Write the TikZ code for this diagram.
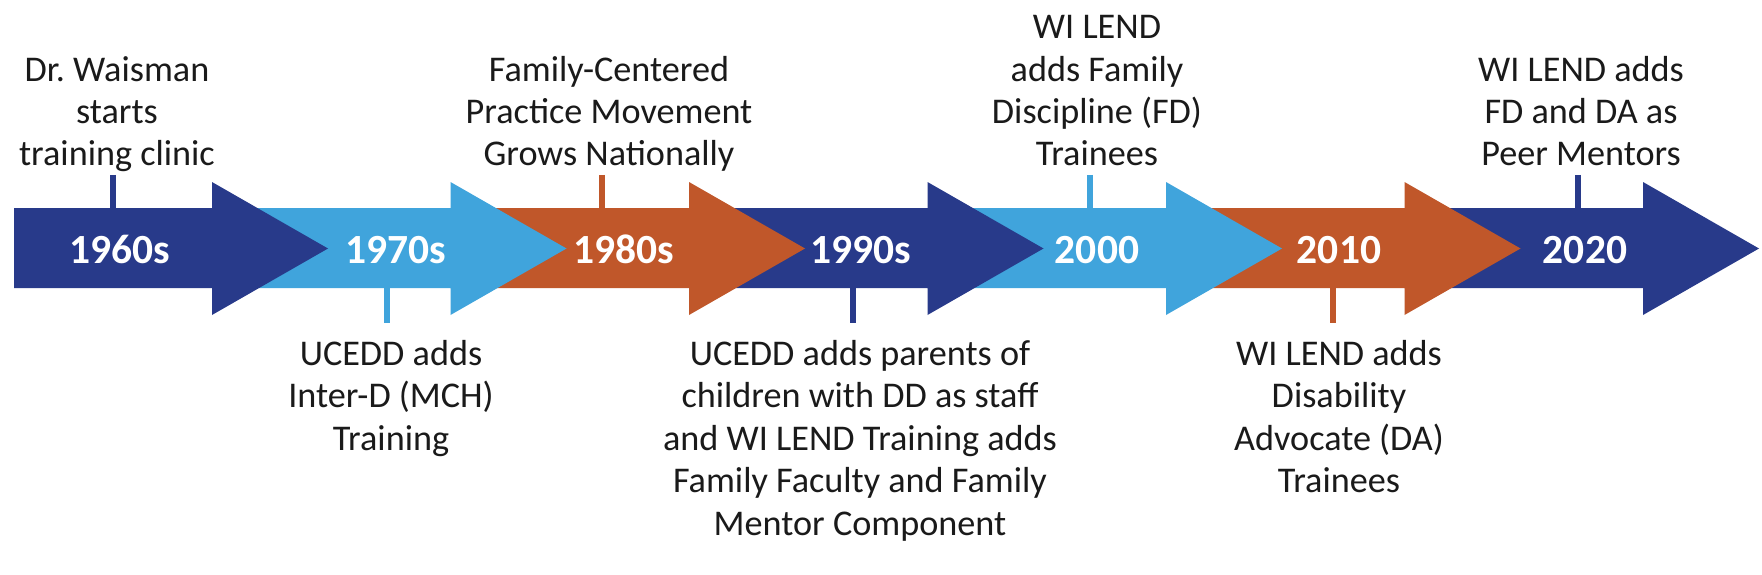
\documentclass[tikz,border=0pt]{standalone}
\usepackage{fontspec}
\setmainfont{Carlito}
\frenchspacing
\definecolor{navy}{HTML}{283A8A}
\definecolor{sky}{HTML}{40A4DC}
\definecolor{rust}{HTML}{C0572A}
\definecolor{ink}{HTML}{1A1A1A}
\begin{document}
\begin{tikzpicture}[x=1pt,y=-1pt,
  yearlbl/.style={text=white,font=\fontsize{41.5}{48}\selectfont\bfseries,inner sep=0pt,anchor=base},
  eventlbl/.style={text=ink,font=\fontsize{36.2}{42.5}\selectfont,align=center,inner sep=0pt,anchor=base},
  tick/.style={line width=6pt}]
\useasboundingbox (0,0) rectangle (1762,575);
\fill[white] (0,0) rectangle (1762,575);
% arrow geometry: shaft 208-288, head 182-315, tip y 248.5
\def\arrowshape#1#2#3#4{% left, headstart, tip, colour
  \fill[#4] (#1,208) -- (#2,208) -- (#2,182) -- (#3,248.5) -- (#2,315) -- (#2,288) -- (#1,288) -- cycle;}
\arrowshape{1404.5}{1643}{1759}{navy}
\arrowshape{1166}{1404.5}{1520.5}{rust}
\arrowshape{927.5}{1166}{1282}{sky}
\arrowshape{689}{927.5}{1043.5}{navy}
\arrowshape{450.5}{689}{805}{rust}
\arrowshape{212}{450.5}{566.5}{sky}
\arrowshape{14}{212}{328}{navy}
% year labels
\node[yearlbl] (y1960) at (120,263) {1960s};
\node[yearlbl] (y1970) at (396,263) {1970s};
\node[yearlbl] (y1980) at (624,263) {1980s};
\node[yearlbl] (y1990) at (861,263) {1990s};
\node[yearlbl] (y2000) at (1097,263) {2000};
\node[yearlbl] (y2010) at (1339,263) {2010};
\node[yearlbl] (y2020) at (1585,263) {2020};
% event labels (anchor base = baseline of last line)
\node[eventlbl] (e1960) at (117,166) {Dr.\ Waisman\\starts\\training clinic};
\node[eventlbl] (e1980) at (609,166) {Family-Centered\\Practice Movement\\Grows Nationally};
\node[eventlbl] (e2000) at (1097,166) {WI LEND\\adds Family\\Discipline (FD)\\Trainees};
\node[eventlbl] (e2020) at (1581,166) {WI LEND adds\\FD and DA as\\Peer Mentors};
\node[eventlbl] (e1970) at (391,450) {UCEDD adds\\Inter-D (MCH)\\Training};
\node[eventlbl] (e1990) at (860,535) {UCEDD adds parents of\\children with DD as staff\\and WI LEND Training adds\\Family Faculty and Family\\Mentor Component};
\node[eventlbl] (e2010) at (1339,492.5) {WI LEND adds\\Disability\\Advocate (DA)\\Trainees};
% ticks
\coordinate (t1960a) at (113,175); \coordinate (t1960b) at (113,208);
\coordinate (t1970a) at (387,288); \coordinate (t1970b) at (387,323);
\coordinate (t1980a) at (602,175); \coordinate (t1980b) at (602,208);
\coordinate (t1990a) at (853,288); \coordinate (t1990b) at (853,323);
\coordinate (t2000a) at (1090,175); \coordinate (t2000b) at (1090,208);
\coordinate (t2010a) at (1333,288); \coordinate (t2010b) at (1333,323);
\coordinate (t2020a) at (1578,175); \coordinate (t2020b) at (1578,208);
\draw[tick,navy] (t1960a) -- (t1960b);
\draw[tick,sky] (t1970a) -- (t1970b);
\draw[tick,rust] (t1980a) -- (t1980b);
\draw[tick,navy] (t1990a) -- (t1990b);
\draw[tick,sky] (t2000a) -- (t2000b);
\draw[tick,rust] (t2010a) -- (t2010b);
\draw[tick,navy] (t2020a) -- (t2020b);
\end{tikzpicture}
\end{document}
